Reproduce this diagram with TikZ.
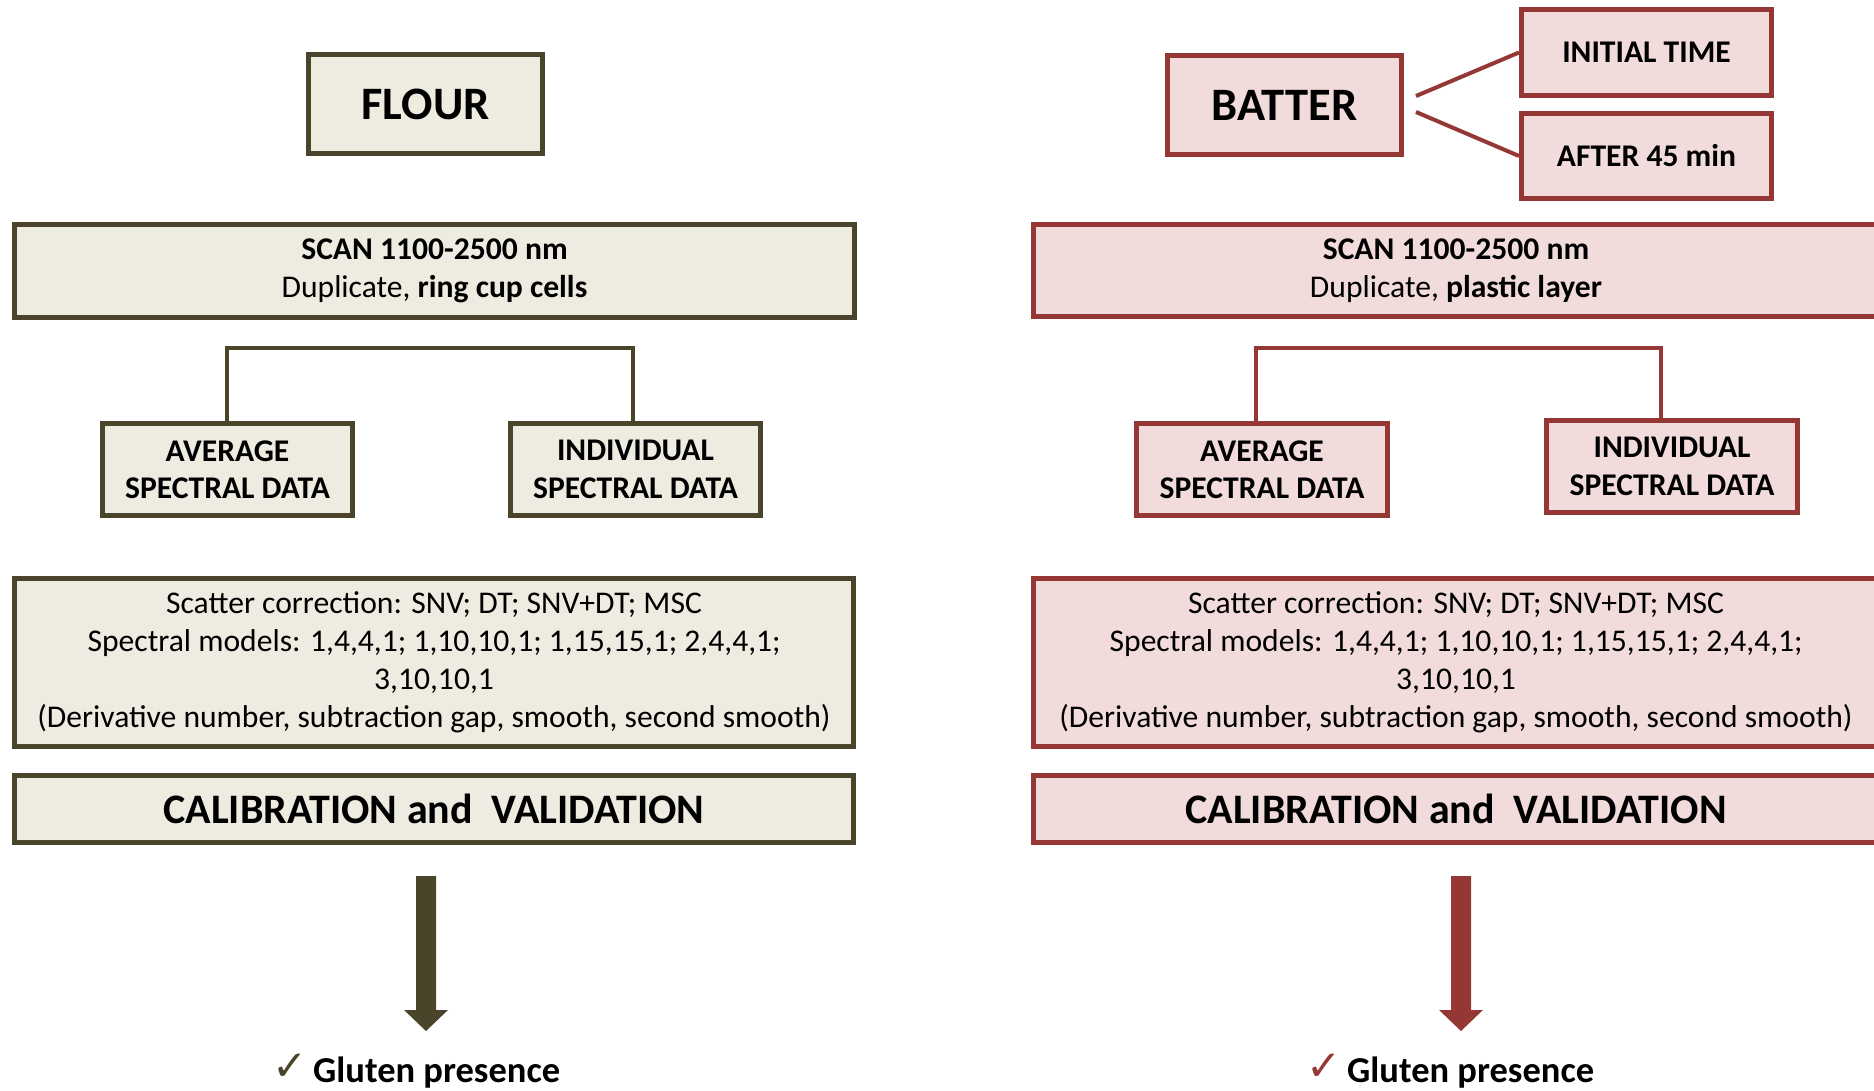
\documentclass[tikz,border=0pt]{standalone}
\usepackage{fontspec}
\setmainfont{Carlito}
\newfontfamily\symfont{DejaVu Sans}
\definecolor{olv}{HTML}{4A452A}
\definecolor{olvfill}{HTML}{EEECE1}
\definecolor{redl}{HTML}{953735}
\definecolor{redfill}{HTML}{F2DCDB}
\begin{document}
\begin{tikzpicture}[x=1pt,y=-1pt,
  box/.style={draw, line width=5pt, rectangle, inner sep=0pt, align=center, text=black},
  fl/.style={box, draw=olv, fill=olvfill},
  bt/.style={box, draw=redl, fill=redfill},
  bigtxt/.style={font=\fontsize{46.5}{54}\selectfont\bfseries},
  midtxt/.style={font=\fontsize{31.6}{38}\selectfont},
  midbold/.style={font=\fontsize{31.6}{37.5}\selectfont\bfseries},
  caltxt/.style={font=\fontsize{42}{50}\selectfont\bfseries},
  gluten/.style={anchor=base west, inner sep=0pt, font=\fontsize{36.5}{43}\selectfont\bfseries},
  checkm/.style={inner sep=0pt, font=\symfont\fontsize{42}{46}\selectfont},
  treeline/.style={line width=3.5pt},
]
\useasboundingbox (0,0) rectangle (1874,1091);
\fill[white] (0,0) rectangle (1874,1091);

% top boxes
\node[fl,bigtxt,minimum width=234pt,minimum height=99pt] (flour) at (425.5,104) {FLOUR};
\node[bt,bigtxt,minimum width=234pt,minimum height=99pt] (batter) at (1284.5,105.5) {BATTER};
\node[bt,midbold,minimum width=250pt,minimum height=86pt] (init) at (1646.5,52.5) {INITIAL TIME};
\node[bt,midbold,minimum width=250pt,minimum height=85pt] (after) at (1646.5,156) {AFTER 45 min};

\coordinate (bt1) at (1416,96);
\coordinate (bt2) at (1416,112);
\draw[redl, line width=4pt] (bt1) -- (init.west);
\draw[redl, line width=4pt] (bt2) -- (after.west);

% scan boxes
\node[fl,midtxt,minimum width=840pt,minimum height=93pt] (scanL) at (434.5,271)
  {\textbf{SCAN 1100-2500 nm}\\Duplicate, \textbf{ring cup cells}};
\node[bt,midtxt,minimum width=845pt,minimum height=92pt] (scanR) at (1456,270.5)
  {\textbf{SCAN 1100-2500 nm}\\Duplicate, \textbf{plastic layer}};

% spectral data boxes
\node[fl,midbold,minimum width=250pt,minimum height=92pt] (avgL) at (227.5,469.5) {AVERAGE\\SPECTRAL DATA};
\node[fl,midbold,minimum width=250pt,minimum height=92pt] (indL) at (635.5,469.5) {INDIVIDUAL\\SPECTRAL DATA};
\node[bt,midbold,minimum width=251pt,minimum height=92pt] (avgR) at (1262,469.5) {AVERAGE\\SPECTRAL DATA};
\node[bt,midbold,minimum width=251pt,minimum height=92pt] (indR) at (1672,466.5) {INDIVIDUAL\\SPECTRAL DATA};

\coordinate (tl1) at (227,348);
\coordinate (tl2) at (633,348);
\draw[olv, treeline] (tl1 |- avgL.north) -- (tl1) -- (tl2) -- (tl2 |- indL.north);
\coordinate (tr1) at (1256,348);
\coordinate (tr2) at (1661,348);
\draw[redl, treeline] (tr1 |- avgR.north) -- (tr1) -- (tr2) -- (tr2 |- indR.north);

% processing boxes
\node[fl,midtxt,minimum width=839pt,minimum height=168pt] (scatL) at (434,662)
  {Scatter correction: SNV; DT; SNV+DT; MSC\\Spectral models: 1,4,4,1; 1,10,10,1; 1,15,15,1; 2,4,4,1;\\3,10,10,1\\(Derivative number, subtraction gap, smooth, second smooth)};
\node[bt,midtxt,minimum width=845pt,minimum height=168pt] (scatR) at (1456,662)
  {Scatter correction: SNV; DT; SNV+DT; MSC\\Spectral models: 1,4,4,1; 1,10,10,1; 1,15,15,1; 2,4,4,1;\\3,10,10,1\\(Derivative number, subtraction gap, smooth, second smooth)};

\node[fl,caltxt,minimum width=839pt,minimum height=67pt] (calL) at (434,809) {CALIBRATION and~ VALIDATION};
\node[bt,caltxt,minimum width=845pt,minimum height=67pt] (calR) at (1456,809) {CALIBRATION and~ VALIDATION};

% big arrows
\coordinate (aL) at (426,876);
\fill[olv] (aL) ++(-10,0) -- ++(20,0) -- ++(0,134) -- ++(12,0) -- ++(-22,21) -- ++(-22,-21) -- ++(12,0) -- cycle;
\coordinate (aR) at (1461,876);
\fill[redl] (aR) ++(-10,0) -- ++(20,0) -- ++(0,134) -- ++(12,0) -- ++(-22,21) -- ++(-22,-21) -- ++(12,0) -- cycle;

% results
\node[gluten] (gL) at (313,1082) {Gluten presence};
\node[checkm, text=olv] (ckL) at (290,1067) {✓};
\node[gluten] (gR) at (1347,1082) {Gluten presence};
\node[checkm, text=redl] (ckR) at (1324,1067) {✓};
\end{tikzpicture}
\end{document}
